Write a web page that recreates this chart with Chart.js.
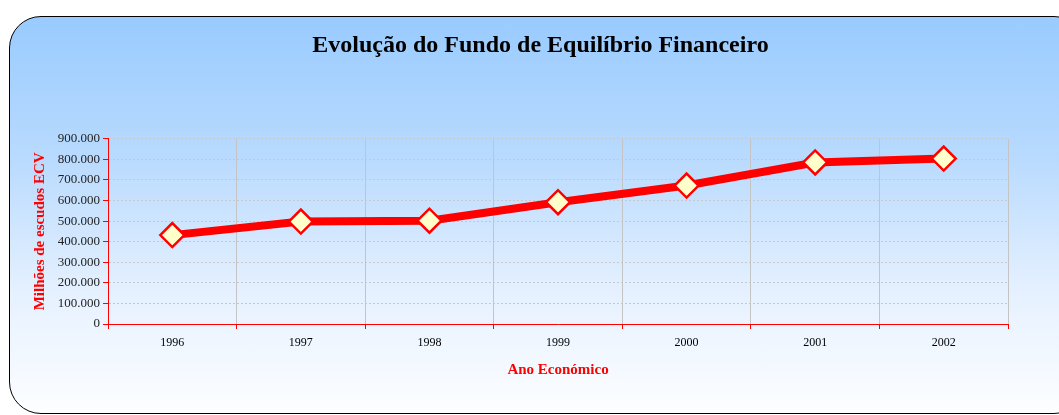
<!DOCTYPE html>
<html>
<head>
<meta charset="utf-8">
<script src="https://cdn.jsdelivr.net/npm/chart.js@4/dist/chart.umd.min.js"></script>
<style>
  html, body { margin: 0; padding: 0; background: #fff; overflow: hidden; }
  #panel {
    position: absolute; left: 9px; top: 16px; width: 1075px; height: 396px;
    border: 1.5px solid #000; border-radius: 32px;
    background: linear-gradient(to bottom, #99cbfe 0%, #b8dafe 35%, #e6f1ff 70%, #fdfeff 100%);
  }
  #chart { position: absolute; left: 0; top: 0; }
</style>
</head>
<body>
<div id="panel"></div>
<canvas id="chart" width="1059" height="415"></canvas>
<script>
// dados do gráfico
const anos = ['1996', '1997', '1998', '1999', '2000', '2001', '2002'];
const fundo = [432000, 498000, 502000, 592000, 673000, 785000, 804000];
const yTicks = [0, 100000, 200000, 300000, 400000, 500000, 600000, 700000, 800000, 900000];

const serif = "'Liberation Serif', 'Times New Roman', serif";

function formatar(v) {
    return v.toString().replace(/\B(?=(\d{3})+(?!\d))/g, '.');
}

const ctx = document.getElementById('chart').getContext('2d');
const myChart = new Chart(ctx, {
    type: 'line',
    data: {
        labels: anos,
        datasets: [{
            label: 'Fundo',
            data: fundo,
            borderColor: '#ff0000',
            borderWidth: 8,
            pointStyle: 'rectRot',
            pointRadius: 12,
            pointBackgroundColor: '#ffffcc',
            pointBorderColor: '#ff0000',
            pointBorderWidth: 2.5,
            tension: 0
        }]
    },
    options: {
        responsive: false,
        animation: false,
        layout: { padding: { left: 31, right: 9, top: 0, bottom: 36 } },
        plugins: {
            legend: { display: false },
            tooltip: { enabled: false },
            title: {
                display: true,
                text: 'Evolução do Fundo de Equilíbrio Financeiro',
                color: '#000',
                font: { family: serif, size: 24, weight: 'bold' },
                padding: { top: 31, bottom: 79 }
            }
        },
        scales: {
            x: {
                offset: true,
                afterFit: function(axis) { axis.height = 55; },
                grid: {
                    offset: true,
                    color: '#c4c4c4',
                    lineWidth: 1,
                    tickColor: '#ff0000',
                    tickLength: 5
                },
                border: { color: '#ff0000', width: 1 },
                ticks: {
                    color: '#000',
                    font: { family: serif, size: 12 },
                    padding: 7,
                    maxRotation: 0
                },
                title: {
                    display: true,
                    text: 'Ano Económico',
                    color: '#ff0000',
                    font: { family: serif, size: 15, weight: 'bold' },
                    padding: { top: 0, bottom: 0 }
                }
            },
            y: {
                min: 0,
                max: 900000,
                afterBuildTicks: function(axis) {
                    axis.ticks = yTicks.map(v => ({ value: v }));
                },
                afterFit: function(axis) { axis.width = 77; },
                grid: {
                    color: '#c8c8c8',
                    lineWidth: 1,
                    tickColor: '#ff0000',
                    tickLength: 5,
                    tickBorderDash: [0, 0]
                },
                border: { color: '#ff0000', width: 1, dash: [2, 2] },
                ticks: {
                    color: '#222',
                    font: { family: serif, size: 13 },
                    padding: 3,
                    callback: function(v) { return formatar(v); }
                },
                title: {
                    display: true,
                    text: 'Milhões de escudos ECV',
                    color: '#ff0000',
                    font: { family: serif, size: 15, weight: 'bold' },
                    padding: { top: 0, bottom: 4 }
                }
            },
            // eixo vazio à direita só para reservar espaço
            yR: {
                position: 'right',
                min: 0,
                max: 900000,
                afterFit: function(axis) { axis.width = 42; },
                grid: { drawOnChartArea: false, drawTicks: false },
                border: { display: false },
                ticks: { display: false }
            }
        }
    }
});
</script>
</body>
</html>
